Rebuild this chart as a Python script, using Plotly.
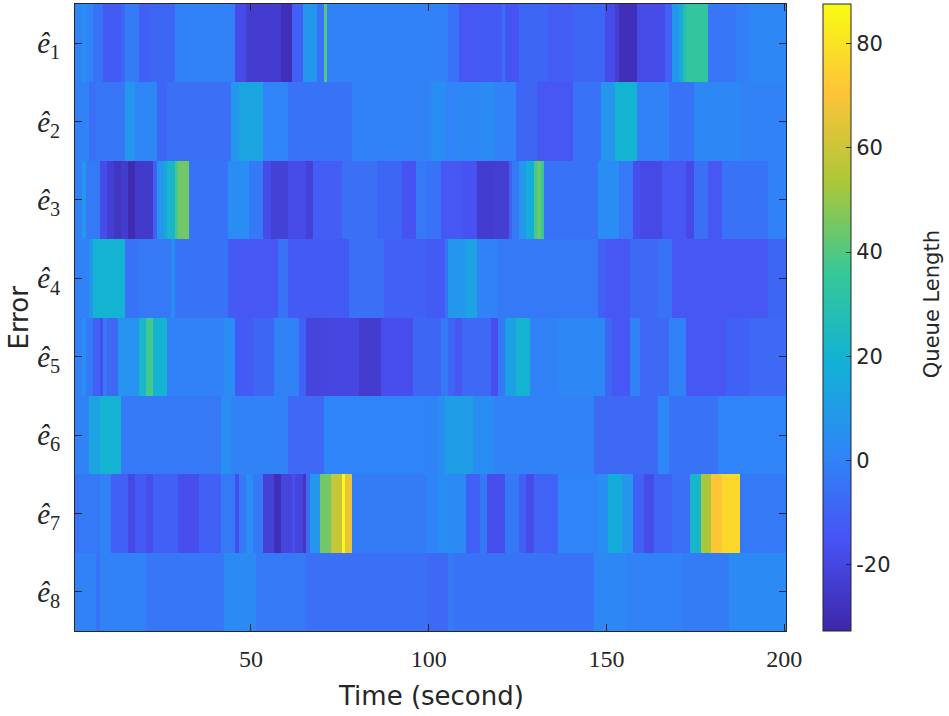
import plotly.graph_objects as go

# ---- data (run starts: (first_time_index, queue_length)) ----
time_steps = list(range(1, 201))
row_labels = ["<i>ê</i><sub>1</sub>", "<i>ê</i><sub>2</sub>", "<i>ê</i><sub>3</sub>", "<i>ê</i><sub>4</sub>",
              "<i>ê</i><sub>5</sub>", "<i>ê</i><sub>6</sub>", "<i>ê</i><sub>7</sub>", "<i>ê</i><sub>8</sub>"]

e1_runs = [(1, 1), (3, 5), (4, 1), (6, -5), (9, -13), (14, -9), (15, -2), (19, -11), (22, -9), (29, 0),
           (46, -18), (49, -23), (50, -24), (59, -29), (62, -11), (65, 8), (69, -5), (71, 40), (72, 0),
           (106, -5), (109, -14), (114, -13), (121, -6), (122, -15), (126, -9), (134, -12), (141, -9),
           (150, -18), (153, -23), (154, -29), (159, -18), (167, -11), (169, 8), (171, 16), (172, 28),
           (173, 34), (179, -4), (187, -1), (191, 2)]
e2_runs = [(1, 0), (5, -6), (7, -4), (15, 8), (18, 1), (20, 2), (24, -9), (27, -6), (45, 8), (47, 14),
           (54, 1), (61, -5), (79, 0), (101, 4), (105, 1), (109, 2), (115, 3), (117, 4), (119, 0),
           (125, -9), (131, -14), (141, -5), (149, 8), (153, 20), (159, 0), (168, -5), (175, 2), (188, 0)]
e3_runs = [(1, 0), (3, 8), (4, -3), (8, -18), (10, -23), (12, -27), (14, -24), (16, -31), (18, -25),
           (23, -12), (24, 8), (26, 14), (27, 22), (29, 38), (30, 45), (33, -5), (44, 4), (50, -3),
           (54, -18), (56, -22), (61, -18), (66, -22), (68, -12), (76, -6), (86, -9), (93, -16), (97, -3),
           (100, -5), (104, -14), (110, -16), (114, -24), (119, -23), (123, -12), (124, -3), (126, 8),
           (128, 18), (130, 38), (131, 44), (132, 36), (133, -5), (148, 4), (154, -3), (158, -17),
           (160, -19), (166, -14), (173, -19), (175, -6), (179, -14), (183, -5), (196, 0)]
e4_runs = [(1, 0), (5, 8), (6, 20), (15, -5), (19, -3), (28, 4), (29, -5), (44, -13), (46, -14),
           (58, -5), (61, -13), (78, -6), (88, -11), (100, -13), (105, -5), (106, 8), (111, 13), (114, 0),
           (120, -3), (148, -11), (150, -14), (157, -8), (165, -5), (169, -14), (196, -9)]
e5_runs = [(1, 0), (3, 4), (4, -3), (6, -11), (8, -17), (9, -3), (10, -8), (13, 6), (19, 22), (21, 38),
           (23, 20), (27, 0), (43, 4), (46, -13), (51, -9), (57, 0), (64, -11), (66, -21), (72, -20),
           (81, -24), (87, -17), (96, -9), (104, -3), (106, -9), (108, -14), (110, -8), (118, -17),
           (120, -3), (122, 12), (125, 20), (129, 0), (137, 2), (150, -9), (152, -14), (157, 0), (160, -8),
           (168, 0), (173, -14), (184, -11), (191, -8)]
e6_runs = [(1, 0), (5, 13), (8, 20), (14, -3), (42, 4), (45, 0), (61, -8), (71, 1), (101, 0), (103, 4),
           (105, 11), (113, 4), (119, 0), (147, -8), (165, 2), (168, -5), (182, 1)]
e7_runs = [(1, -5), (2, -3), (8, 0), (11, -11), (16, -19), (18, -13), (21, -17), (23, -11), (30, -17),
           (36, -11), (42, -3), (46, -17), (47, -3), (49, 4), (51, -3), (54, -22), (57, -29), (59, -21),
           (62, -17), (63, -21), (65, -27), (66, -8), (67, 8), (70, 45), (73, 59), (76, 87), (77, 66),
           (79, -2), (100, 1), (103, 4), (106, 3), (111, -11), (115, -3), (117, -17), (122, -3), (126, -11),
           (128, -18), (130, -10), (137, 1), (148, 4), (151, 17), (155, 8), (158, -11), (161, -18),
           (164, -10), (169, -6), (174, 22), (177, 53), (180, 71), (183, 77), (188, -3)]
e8_runs = [(1, 0), (7, -5), (8, 0), (21, -4), (43, 3), (52, -3), (66, -6), (100, -8), (106, -3),
           (108, -5), (147, 2), (156, 0), (172, -2), (185, 3)]

colorbar_ticks = [-20, 0, 20, 40, 60, 80]
colorbar_labels = ["-20", "0", "20", "40", "60", "80"]
z_min, z_max = -32.7, 87.6


def expand(runs, n=len(time_steps)):
    out = []
    for i, (start, val) in enumerate(runs):
        end = runs[i + 1][0] if i + 1 < len(runs) else n + 1
        out.extend([val] * (end - start))
    return out


z = [expand(r) for r in [e1_runs, e2_runs, e3_runs, e4_runs, e5_runs, e6_runs, e7_runs, e8_runs]]

parula = [
    [0.0, "rgb(62,38,168)"],
    [1 / 7, "rgb(72,82,244)"],
    [2 / 7, "rgb(46,135,247)"],
    [3 / 7, "rgb(18,177,214)"],
    [4 / 7, "rgb(55,200,151)"],
    [5 / 7, "rgb(171,199,57)"],
    [6 / 7, "rgb(254,195,56)"],
    [1.0, "rgb(249,251,21)"],
]

W, H = 949, 716
L, R, T, B = 75, 786.5, 4, 631.5
axis_col = "#262626"

fig = go.Figure(go.Heatmap(
    z=z, x=time_steps, y=list(range(1, 9)),
    colorscale=parula, zmin=z_min, zmax=z_max,
    colorbar=dict(
        x=(824 - L) / (R - L), xanchor="left", xref="paper", xpad=0, ypad=0,
        y=0.5, yanchor="middle", len=1.0, lenmode="fraction",
        thickness=28, thicknessmode="pixels",
        outlinewidth=1, outlinecolor=axis_col,
        tickvals=colorbar_ticks, ticktext=colorbar_labels,
        ticks="inside", ticklen=5, tickcolor=axis_col,
        tickfont=dict(family="DejaVu Sans", size=21, color=axis_col),
        ticklabelposition="outside",
    ),
))

fig.update_layout(
    width=W, height=H,
    margin=dict(l=L, r=W - R, t=T, b=H - B, pad=0),
    paper_bgcolor="white", plot_bgcolor="white",
    xaxis=dict(
        range=[0.5, 200.5], tickvals=[50, 100, 150, 200],
        ticks="inside", ticklen=7, tickcolor=axis_col, tickwidth=1,
        showline=True, linecolor=axis_col, linewidth=1, mirror="ticks",
        showgrid=False, zeroline=False,
        tickfont=dict(family="Liberation Serif", size=24, color=axis_col),
        ticklabelstandoff=6,
    ),
    yaxis=dict(
        range=[8.5, 0.5], tickvals=list(range(1, 9)), ticktext=row_labels,
        ticks="inside", ticklen=7, tickcolor=axis_col, tickwidth=1,
        showline=True, linecolor=axis_col, linewidth=1, mirror="ticks",
        showgrid=False, zeroline=False,
        tickfont=dict(family="Liberation Serif", size=29, color=axis_col),
        ticklabelstandoff=8,
    ),
    annotations=[
        dict(text="Time (second)", xref="paper", yref="paper", x=0.5, y=(B - 697) / (B - T),
             xanchor="center", yanchor="middle", showarrow=False,
             font=dict(family="DejaVu Sans", size=26, color=axis_col)),
        dict(text="Error", xref="paper", yref="paper", x=(18 - L) / (R - L), y=0.5,
             xanchor="center", yanchor="middle", showarrow=False, textangle=-90,
             font=dict(family="DejaVu Sans", size=26, color=axis_col)),
        dict(text="Queue Length", xref="paper", yref="paper", x=(932 - L) / (R - L), y=(B - 304) / (B - T),
             xanchor="center", yanchor="middle", showarrow=False, textangle=-90,
             font=dict(family="DejaVu Sans", size=21, color=axis_col)),
    ],
)

fig.write_html("out.html", config={"displayModeBar": False},
               post_script="document.body.style.margin='0';")
